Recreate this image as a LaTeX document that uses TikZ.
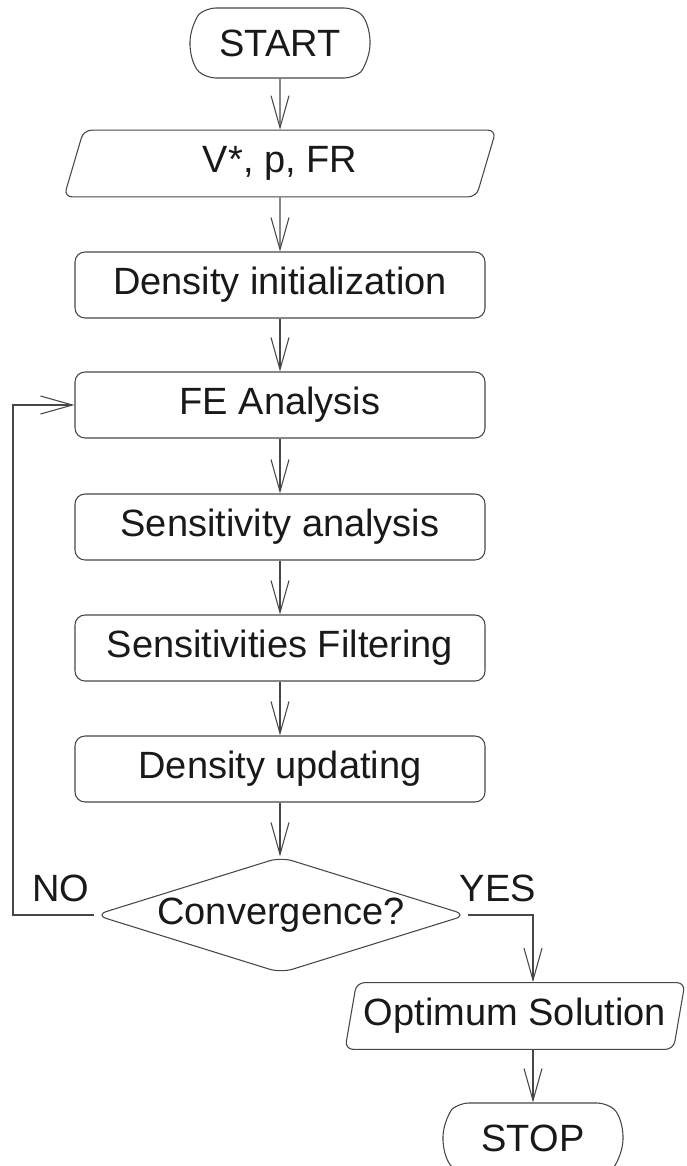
\documentclass[tikz,border=0pt]{standalone}
\usepackage{fontspec}
\setmainfont{Liberation Sans}
\usetikzlibrary{shapes.geometric,shapes.misc,arrows.meta}

\newcommand\flowfont{\fontsize{28.5}{34}\selectfont}

\tikzset{
  flowline/.style={color=black!72, line width=0.8pt},
  flow/.style={flowline, -{Straight Barb[length=24pt,width=13.5pt,line width=0.8pt]}},
  base/.style={draw=black!72, line width=0.8pt, text=black!90, font=\flowfont, inner sep=0pt},
  process/.style={base, rectangle, rounded corners=7.5pt, minimum width=307.5pt, minimum height=49.5pt},
  terminal/.style={base, rounded rectangle, rounded rectangle arc length=100, rounded corners=7pt, minimum width=135pt, minimum height=52.5pt},
  io/.style={base, trapezium, trapezium stretches body, rounded corners=6pt, minimum height=50pt},
  decision/.style={base, diamond, shape aspect=3.2, rounded corners=9pt, minimum width=279pt, minimum height=87pt},
  answer/.style={text=black!90, font=\flowfont, inner sep=0pt}
}

\begin{document}
\begin{tikzpicture}[x=0.75pt,y=0.75pt,yscale=-1,xscale=1]
\useasboundingbox (0,0) rectangle (686,1166);

%Shape: Terminal
\node [terminal] (start) at (280,43) {START};
%Shape: Input
\node [io, trapezium left angle=60, trapezium right angle=120, minimum width=324pt] (input) at (280,163.5) {V*, p, FR};
%Shape: Process boxes
\node [process] (densinit) at (280,285) {Density initialization};
\node [process] (fea) at (280,405) {FE Analysis};
\node [process] (sens) at (280,527) {Sensitivity analysis};
\node [process] (filter) at (280,648) {Sensitivities Filtering};
\node [process] (update) at (280,769) {Density updating};
%Shape: Decision
\node [decision] (conv) at (281,915) {Convergence?};
%Shape: Output
\node [io, trapezium left angle=72, trapezium right angle=108, minimum width=255pt] (optimum) at (515,1016) {Optimum Solution};
%Shape: Terminal
\node [terminal] (stop) at (533,1138) {STOP};

% Text Node
\node [answer] (no) at (61,888) {NO};
\node [answer] (yes) at (498,888) {YES};

\coordinate (noturn) at (13,915);
\coordinate (yesturn) at (533,915);

%Straight Lines
\draw [flow] (start) -- (input);
\draw [flow] (input) -- (densinit);
\draw [flow] (densinit) -- (fea);
\draw [flow] (fea) -- (sens);
\draw [flow] (sens) -- (filter);
\draw [flow] (filter) -- (update);
\draw [flow] (update.south) -- (conv.north -| update.south);
\draw [flow] (conv.west) -- (noturn) |- (fea.west);
\draw [flow] (conv.east) -- (yesturn) -- (yesturn |- optimum.north);
\draw [flow] (yesturn |- optimum.south) -- (stop.north);

\end{tikzpicture}
\end{document}
